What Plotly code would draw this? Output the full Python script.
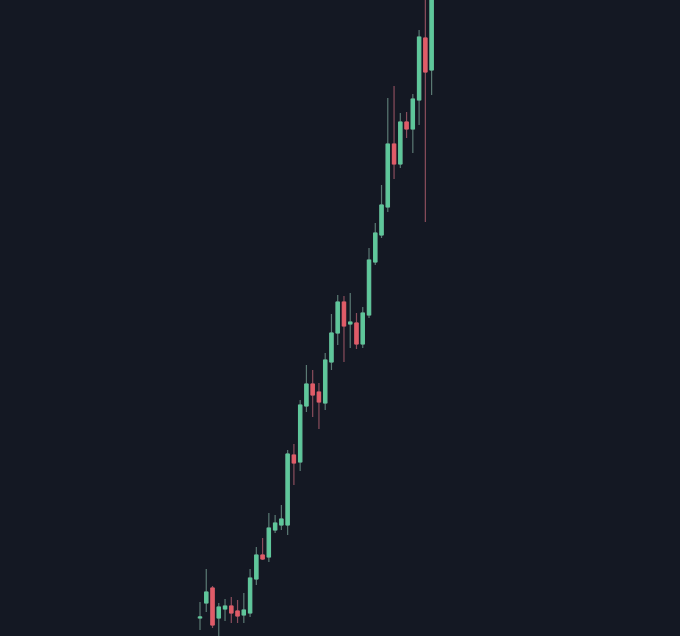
import plotly.graph_objects as go

# Candle index (one per period)
periods = list(range(38))

opens  = [18, 33, 48, 18, 27, 30, 25, 21, 23, 57, 81, 79, 106, 111, 111, 181, 174, 230, 252, 244,
          233, 274, 303, 334, 312, 313, 292, 321, 374, 401, 429, 492, 472, 514, 507, 536, 598, 566]
highs  = [34, 67, 50, 33, 37, 39, 36, 43, 67, 89, 98, 123, 121, 131, 186, 192, 236, 271, 266, 253,
          283, 322, 341, 340, 343, 323, 329, 388, 413, 451, 538, 550, 523, 524, 542, 606, 656, 676]
lows   = [6, 24, 8, -4, 15, 13, 13, 13, 19, 51, 76, 74, 103, 106, 101, 151, 165, 224, 219, 207,
          226, 266, 291, 274, 288, 287, 288, 318, 371, 398, 424, 457, 468, 498, 483, 511, 414, 541]
closes = [19, 44, 11, 29, 30, 23, 20, 26, 58, 81, 77, 108, 113, 117, 182, 173, 231, 252, 241, 234,
          276, 303, 334, 310, 314, 292, 323, 376, 403, 431, 492, 472, 514, 507, 537, 599, 564, 666]

BG = "#141823"
UP = "#5fc79b"
DOWN = "#e05c68"
UP_WICK = "#5b7a74"
DOWN_WICK = "#8a4d5c"

body_hi = [max(o, c) for o, c in zip(opens, closes)]
body_lo = [min(o, c) for o, c in zip(opens, closes)]

fig = go.Figure()
# wicks
fig.add_trace(go.Candlestick(
    x=periods, open=opens, high=highs, low=lows, close=closes,
    increasing=dict(line=dict(color=UP_WICK, width=1.2), fillcolor=UP),
    decreasing=dict(line=dict(color=DOWN_WICK, width=1.2), fillcolor=DOWN),
    showlegend=False, hoverinfo="skip",
))
# bodies
fig.add_trace(go.Candlestick(
    x=periods, open=opens, high=body_hi, low=body_lo, close=closes,
    increasing=dict(line=dict(color=UP, width=1), fillcolor=UP),
    decreasing=dict(line=dict(color=DOWN, width=1), fillcolor=DOWN),
    showlegend=False,
))

fig.update_layout(
    width=680, height=636,
    margin=dict(l=0, r=0, t=0, b=0),
    paper_bgcolor=BG, plot_bgcolor=BG,
    boxgap=0.25,
    showlegend=False,
    xaxis=dict(range=[-31.95, 76.68], visible=False, rangeslider=dict(visible=False),
               showgrid=False, zeroline=False),
    yaxis=dict(range=[0, 636], visible=False, showgrid=False, zeroline=False),
)

fig.write_html(
    "out.html",
    config={"displayModeBar": False},
    post_script="document.body.style.margin='0';document.body.style.overflow='hidden';document.body.style.background='#141823';",
)
